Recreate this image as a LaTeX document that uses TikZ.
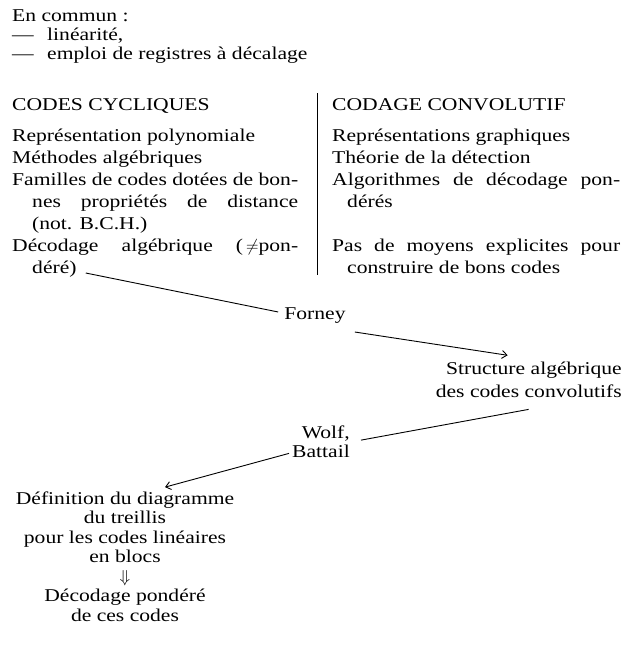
\documentclass[tikz,border=0pt]{standalone}
\usepackage{fontspec}
\setmainfont{Liberation Serif}[FakeStretch=1.2]
\usetikzlibrary{positioning,arrows.meta}

\begin{document}
\begin{tikzpicture}[x=1pt,y=-1pt,
    every node/.style={inner sep=0pt,font=\fontsize{18}{22}\selectfont},
    txt/.style={align=left,anchor=base west},
    lien/.style={line width=0.9pt},
    fleche/.style={lien,-{Straight Barb[length=5pt,width=8pt]}}]
  \useasboundingbox (0,0) rectangle (625,645);

  % en commun (base = last line)
  \node (commun) [txt,font=\fontsize{18}{19}\selectfont] at (12,59)
    {En commun :\\
     \makebox[35pt][l]{\textemdash}linéarité,\\
     \makebox[35pt][l]{\textemdash}emploi de registres à décalage};

  % codes cycliques
  \node (cyc) [txt] at (12,110) {CODES CYCLIQUES};
  \node (cycbody) [txt] at (12,251)
    {Représentation polynomiale\\
     Méthodes algébriques\\
     \makebox[286pt][s]{Familles de codes dotées de bon-}\\
     \hspace*{20pt}\makebox[266pt][s]{nes propriétés de distance}\\
     \hspace*{20pt}(not. B.C.H.)\\
     \makebox[286pt][s]{Décodage algébrique (\,$\neq$pon-}};
  \node (dere) [txt] at (32,273) {déré)};

  % codage convolutif
  \node (conv) [txt] at (332,110) {CODAGE CONVOLUTIF};
  \node (convbody) [txt] at (332,273)
    {Représentations graphiques\\
     Théorie de la détection\\
     \makebox[288pt][s]{Algorithmes de décodage pon-}\\
     \hspace*{15pt}dérés\\[22pt]
     \makebox[288pt][s]{Pas de moyens explicites pour}\\
     \hspace*{15pt}construire de bons codes};
  \draw[lien] (317,93) -- (317,275);

  % filiation
  \node (forney) [anchor=base] at (315,319) {Forney};
  \node (struct) [align=right,anchor=base east,font=\fontsize{18}{23}\selectfont] at (622,397)
    {Structure algébrique\\des codes convolutifs};
  \node (wolf) [align=right,anchor=base east,font=\fontsize{18}{19}\selectfont] at (350,457)
    {Wolf,\\Battail};
  \node (treillis) [align=center,anchor=base,font=\fontsize{18}{19.5}\selectfont] at (125,621)
    {Définition du diagramme\\du treillis\\pour les codes linéaires\\en blocs\\
     $\Downarrow$\\Décodage pondéré\\de ces codes};

  \draw[lien] ([xshift=9pt]dere.base east) -- ([xshift=-6pt,yshift=7pt]forney.base west);
  \draw[fleche] ([xshift=9pt,yshift=-13pt]forney.base east) -- ([xshift=72pt,yshift=6pt]struct.north west);
  \draw[lien] ([xshift=93pt,yshift=-12pt]struct.south west) -- ([xshift=11pt,yshift=-15pt]wolf.north east);
  \draw[fleche] ([xshift=-3pt,yshift=4pt]wolf.south west) -- ([xshift=40pt,yshift=4pt]treillis.north);
\end{tikzpicture}
\end{document}
